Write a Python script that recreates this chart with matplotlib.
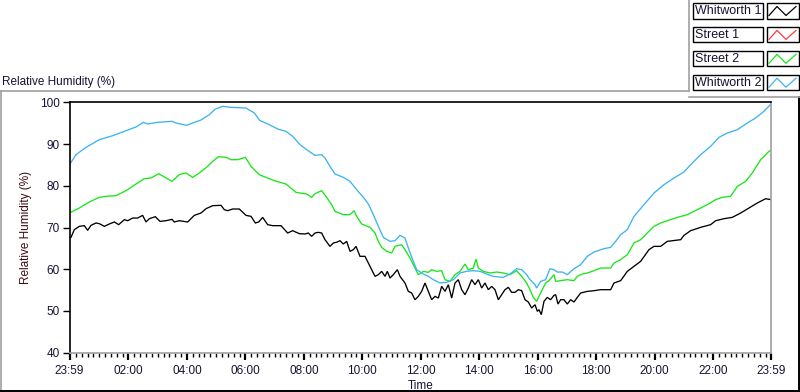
import matplotlib
matplotlib.use("Agg")
import matplotlib.pyplot as plt
from matplotlib.lines import Line2D
from matplotlib.patches import Rectangle

# ---------------- data (hours since 23:59, relative humidity %) ----------------
w1_t = [0, 0.051, 0.165, 0.336, 0.507, 0.621, 0.736, 0.907, 1.020, 1.192, 1.363, 1.534,
        1.682, 1.876, 1.990, 2.161, 2.332, 2.503, 2.617, 2.731, 2.936, 3.096, 3.301, 3.507,
        3.586, 3.757, 4.043, 4.271, 4.499, 4.670, 4.898, 5.183, 5.297, 5.411, 5.582, 5.810,
        6.038, 6.209, 6.358, 6.472, 6.609, 6.780, 6.951, 7.236, 7.464, 7.635, 7.863,
        8.057, 8.171, 8.285, 8.399, 8.513, 8.627, 8.741, 8.912, 9.026, 9.163, 9.254, 9.368,
        9.483, 9.597, 9.711, 9.802, 9.939, 10.110, 10.224, 10.338, 10.452, 10.566, 10.680,
        10.794, 10.874, 10.965, 11.079, 11.216, 11.307, 11.478, 11.592, 11.706, 11.820,
        11.934, 12.048, 12.162, 12.277, 12.390, 12.504, 12.619, 12.733, 12.847, 12.961,
        13.075, 13.189, 13.303, 13.417, 13.531, 13.645, 13.759, 13.873, 13.987, 14.101,
        14.215, 14.329, 14.443, 14.557, 14.671, 14.785, 14.899, 15.013, 15.127, 15.241,
        15.355, 15.470, 15.584, 15.698, 15.812, 15.926, 16.006, 16.062, 16.142, 16.233,
        16.347, 16.461, 16.575, 16.632, 16.712, 16.803, 16.917, 17.031, 17.145, 17.259,
        17.373, 17.488, 17.716, 17.944, 18.172, 18.514, 18.628, 18.856, 19.084, 19.312,
        19.540, 19.825, 19.996, 20.224, 20.453, 20.909, 21.023, 21.251, 21.593, 21.935,
        22.106, 22.391, 22.676, 22.961, 23.246, 23.531, 23.817, 24.0]
w1_v = [67.48, 67.64, 69.48, 70.28, 70.44, 69.32, 70.52, 71.08, 70.92, 70.28, 70.84, 71.32,
        70.68, 71.87, 71.63, 72.27, 72.27, 72.91, 71.32, 72.11, 72.59, 71.47, 71.63, 71.95,
        71.32, 71.63, 71.32, 72.91, 73.47, 74.51, 75.23, 75.31, 74.27, 74.03, 74.43, 74.43,
        72.91, 72.67, 71.08, 71.32, 72.43, 70.68, 70.44, 70.44, 68.68, 69.24, 68.52,
        68.44, 68.68, 67.88, 68.68, 68.84, 68.68, 67.08, 65.48, 66.28, 66.52, 66.84, 66.04,
        66.68, 64.29, 64.69, 65.48, 63.09, 63.09, 61.49, 59.89, 58.30, 58.70, 59.49,
        58.30, 59.49, 57.90, 58.70, 59.89, 58.30, 56.70, 54.70, 54.30, 52.70,
        53.50, 54.70, 56.70, 54.70, 52.70, 53.50, 53.10, 55.90, 54.70, 56.30,
        53.10, 56.70, 57.50, 55.10, 53.90, 55.50, 57.50, 56.30, 57.50, 55.50,
        56.70, 55.10, 55.90, 55.10, 52.70, 53.90, 55.10, 55.66, 54.46, 54.46,
        55.10, 54.86, 52.70, 52.14, 50.71, 51.50, 49.91, 50.31, 49.11, 52.30,
        53.26, 52.70, 53.74, 53.90, 51.66, 52.70, 52.70, 51.66, 52.70, 52.14,
        53.26, 54.30, 54.70, 54.86, 55.10, 55.10, 56.70, 57.26, 59.49, 60.69,
        61.89, 64.69, 65.48, 65.48, 66.68, 67.08, 68.12, 69.24, 70.04, 70.68,
        71.63, 72.11, 72.43, 73.47, 74.67, 75.87, 76.90, 76.67]

s1_t = []
s1_v = []

s2_t = [0, 0.336, 0.678, 1.020, 1.249, 1.591, 1.933, 2.275, 2.560, 2.788, 3.051, 3.244,
        3.507, 3.757, 3.985, 4.214, 4.442, 4.727, 4.898, 5.103, 5.354, 5.525, 5.753, 6.016,
        6.209, 6.494, 6.722, 7.008, 7.407, 7.749, 7.886, 8.114, 8.285, 8.399, 8.627, 8.798,
        8.969, 9.083, 9.368, 9.597, 9.733, 9.825, 9.996, 10.281, 10.452, 10.566, 10.680,
        10.851, 11.022, 11.136, 11.364, 11.478, 11.649, 11.820, 11.934, 12.106, 12.277,
        12.390, 12.562, 12.733, 12.847, 13.018, 13.189, 13.360, 13.531, 13.645, 13.816,
        13.907, 13.987, 14.158, 14.386, 14.614, 14.842, 15.070, 15.298, 15.470, 15.641,
        15.755, 15.869, 15.983, 16.062, 16.176, 16.290, 16.404, 16.575, 16.632, 16.803,
        17.031, 17.259, 17.373, 17.545, 17.716, 17.944, 18.172, 18.514, 18.628, 18.856,
        19.084, 19.312, 19.540, 19.768, 19.996, 20.224, 20.453, 20.795, 21.137, 21.479,
        21.821, 22.106, 22.334, 22.619, 22.847, 23.132, 23.360, 23.646, 23.931, 24.0]
s2_v = [73.47, 74.67, 76.11, 77.23, 77.47, 77.63, 78.82, 80.42, 81.70, 81.86, 82.90, 82.10,
        81.06, 82.66, 83.06, 82.02, 83.06, 84.65, 85.85, 86.97, 86.81, 86.25, 86.25, 86.81,
        84.65, 82.66, 82.02, 81.22, 80.42, 78.42, 78.26, 78.02, 77.23, 78.10, 78.82, 77.23,
        75.47, 73.87, 73.07, 73.07, 74.03, 72.67, 70.84, 70.04, 68.68, 66.68, 65.24,
        64.29, 63.89, 65.48, 65.88, 64.69, 62.69, 60.29, 58.69, 59.49, 59.25,
        59.89, 59.49, 59.65, 57.50, 57.10, 58.69, 59.49, 61.25, 59.89, 60.29,
        62.45, 60.29, 59.49, 59.10, 59.33, 59.10, 58.69, 59.65, 58.29, 56.70,
        55.10, 53.26, 52.30, 53.50, 55.10, 56.70, 57.26, 58.70, 57.10, 57.26,
        57.50, 57.26, 58.30, 58.85, 59.10, 59.65, 60.29, 60.29, 61.49, 62.29,
        63.49, 66.28, 67.08, 68.68, 70.28, 71.08, 71.63, 72.43, 73.07, 74.27,
        75.47, 76.67, 77.23, 77.47, 79.86, 81.06, 83.06, 86.25, 88.25, 88.49]

w2_t = [0, 0.222, 0.564, 1.020, 1.477, 1.933, 2.275, 2.526, 2.674, 3.016, 3.507, 3.643,
        4.008, 4.214, 4.499, 4.784, 4.989, 5.240, 5.525, 6.038, 6.323, 6.517, 6.836, 7.122,
        7.407, 7.635, 7.886, 8.114, 8.399, 8.627, 8.741, 8.912, 9.083, 9.368, 9.597, 9.825,
        10.053, 10.224, 10.395, 10.566, 10.737, 10.965, 11.136, 11.307, 11.478, 11.592,
        11.763, 11.877, 12.106, 12.277, 12.448, 12.676, 12.904, 13.132, 13.360, 13.588,
        13.816, 14.044, 14.272, 14.500, 14.842, 15.070, 15.298, 15.470, 15.641, 15.755,
        15.926, 15.982, 16.119, 16.290, 16.438, 16.575, 16.689, 16.860, 17.031, 17.259,
        17.488, 17.716, 17.944, 18.286, 18.514, 18.685, 18.856, 19.084, 19.312, 19.654,
        19.996, 20.339, 20.681, 21.023, 21.251, 21.593, 21.935, 22.220, 22.505, 22.847,
        23.190, 23.474, 23.760, 24.0]
w2_v = [85.05, 87.45, 89.20, 91.05, 92.00, 93.20, 94.08, 95.20, 94.80, 95.20, 95.44, 95.04,
        94.48, 95.04, 95.76, 97.04, 98.39, 99.03, 98.79, 98.63, 97.44, 95.60, 94.64, 93.60,
        93.04, 91.84, 89.85, 88.65, 87.29, 87.45, 86.65, 84.65, 82.82, 82.02, 81.06, 79.06,
        77.23, 75.63, 73.07, 70.28, 67.64, 66.68, 66.84, 68.12, 67.48, 65.08,
        61.89, 59.89, 58.85, 58.29, 57.50, 56.70, 56.86, 57.50, 59.10, 59.50,
        59.65, 59.50, 58.85, 58.29, 58.05, 58.85, 60.13, 59.89, 58.69, 57.50,
        56.30, 55.50, 57.10, 57.50, 60.13, 59.89, 59.33, 59.33, 58.70, 60.13,
        61.09, 63.09, 64.13, 64.93, 65.24, 66.68, 68.28, 69.48, 72.67, 75.47,
        78.26, 80.26, 81.86, 83.30, 85.05, 87.45, 89.45, 91.60, 92.64, 93.44,
        95.04, 96.24, 97.84, 99.59]

series_names = ["Whitworth 1", "Street 1", "Street 2", "Whitworth 2"]
series_colors = ["#000000", "#ff3c3c", "#19e619", "#3cb4f0"]
series_data = [(w1_t, w1_v), (s1_t, s1_v), (s2_t, s2_v), (w2_t, w2_v)]

tick_labels = ["23:59", "02:00", "04:00", "06:00", "08:00", "10:00", "12:00",
               "14:00", "16:00", "18:00", "20:00", "22:00", "23:59"]
y_ticks = [40, 50, 60, 70, 80, 90, 100]

# ---------------- figure ----------------
plt.rcParams['font.family'] = ['Liberation Sans', 'DejaVu Sans']
FS = 8.5
W, H = 800, 392
fig = plt.figure(figsize=(W / 100, H / 100), dpi=100)
fig.patch.set_facecolor("white")

def fx(px):
    return px / W

def fy(py):
    return 1 - py / H

text_col = "#141432"

# panel frame (3D-like)
fig.add_artist(Line2D([fx(0.5), fx(0.5)], [fy(91), fy(391)], color="#a0a0a0", lw=1.2))
fig.add_artist(Line2D([fx(0.5), fx(689)], [fy(91), fy(91)], color="#a0a0a0", lw=1.2))
fig.add_artist(Line2D([fx(0), fx(800)], [fy(391), fy(391)], color="#000000", lw=1.4))
fig.add_artist(Line2D([fx(799), fx(799)], [fy(97), fy(391)], color="#000000", lw=1.4))
# legend panel frame
fig.add_artist(Line2D([fx(688.5), fx(688.5)], [fy(0), fy(91)], color="#a0a0a0", lw=1.2))
fig.add_artist(Line2D([fx(688.5), fx(800)], [fy(96.5), fy(96.5)], color="#a0a0a0", lw=1.2))

fig.text(fx(2), fy(82), "Relative Humidity (%)", fontsize=FS, color=text_col,
         ha="left", va="center")

ax = fig.add_axes([fx(69.5), fy(352.7), fx(771 - 69.5), (352.7 - 102.3) / H])
for (t, v), c in zip(series_data, series_colors):
    ax.plot(t, v, color=c, lw=0.95, solid_joinstyle="miter")

ax.set_ylim(40, 100)
ax.set_xlim(0, 24)
ax.set_yticks(y_ticks)
ax.set_yticklabels([str(v) for v in y_ticks])

def hours_since_start(lbl, idx):
    if idx == 0:
        return 0.0
    if idx == len(tick_labels) - 1:
        return 24.0
    h, m = lbl.split(":")
    return int(h) + int(m) / 60 + 1 / 60

major_pos = [hours_since_start(l, i) for i, l in enumerate(tick_labels)]
ax.set_xticks(major_pos)
ax.set_xticklabels(tick_labels)
minor = []
k = 0
while True:
    p = major_pos[1] + 0.2 * (k - 10)
    k += 1
    if p > 24.0:
        break
    if p > 0.15 and all(abs(p - m) > 0.02 for m in major_pos):
        minor.append(p)
ax.set_xticks(minor, minor=True)

ax.tick_params(axis="both", which="major", labelsize=FS, labelcolor=text_col, color="#000000")
ax.tick_params(axis="x", which="major", direction="out", length=5, width=1.6, pad=4)
ax.tick_params(axis="x", which="minor", direction="out", length=3, width=1)
ax.tick_params(axis="y", which="major", direction="out", length=5, width=1, pad=2)

ax.spines["left"].set_color("#000000")
ax.spines["top"].set_color("#000000")
ax.spines["bottom"].set_color("#a0a0a0")
ax.spines["right"].set_color("#a0a0a0")
for s in ax.spines.values():
    s.set_linewidth(1.2)

ax.set_xlabel("Time", fontsize=FS, color=text_col, labelpad=2)
ax.set_ylabel("Relative Humidity (%)", fontsize=FS, color="#3c0a14", labelpad=6)

# ---------------- legend (top right) ----------------
for i, (name, col) in enumerate(zip(series_names, series_colors)):
    top = 3 + i * 23.9
    h = 15.5
    fig.add_artist(Rectangle((fx(692.5), fy(top + h)), fx(70), h / H, fill=False,
                             edgecolor="#000000", lw=1.0))
    fig.add_artist(Rectangle((fx(766.5), fy(top + h)), fx(32), h / H, fill=False,
                             edgecolor="#000000", lw=1.0))
    fig.text(fx(695), fy(top + h / 2 + 0.5), name, fontsize=FS + 0.5, color=text_col,
             ha="left", va="center")
    xs = [769, 777, 786, 796]
    ys = [top + h - 3, top + 3.5, top + h - 3, top + 3.5]
    fig.add_artist(Line2D([fx(x) for x in xs], [fy(y) for y in ys], color=col, lw=0.9))

fig.savefig("out.png", dpi=100, facecolor="white")
